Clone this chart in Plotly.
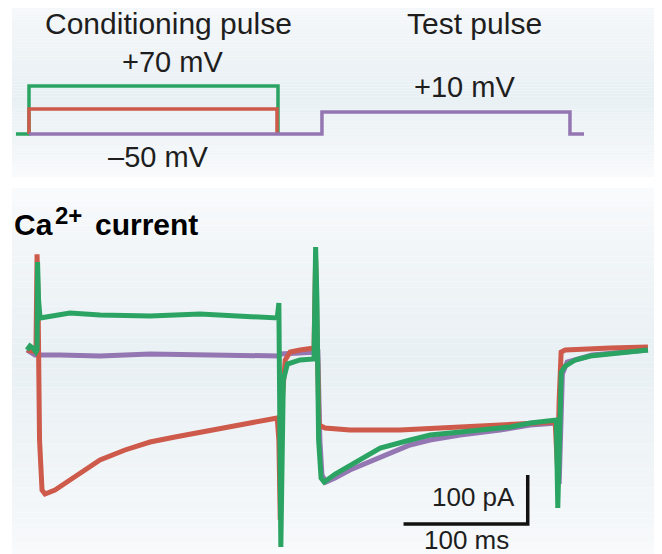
import plotly.graph_objects as go

# ---------------- data ----------------
# Voltage protocol (time in ms, voltage in mV)
v_green_t = [-8.9, 1.6, 1.6, 202.1, 202.1]
v_green_mv = [-50, -50, 70, 70, -50]
v_red_t = [1.6, 1.6, 201.3, 201.3]
v_red_mv = [-50, 12.5, 12.5, -50]
v_purple_t = [1.6, 237.5, 237.5, 437.2, 437.2, 448.5]
v_purple_mv = [-50, -50, 5, 5, -50, -50]

# Ca2+ currents (time in ms, current in pA)
purple_t = [0.0, 6.4, 26.6, 58.8, 99.1, 139.4, 179.7, 202.8, 204.4, 219.7, 232.6, 234.2,
            235.8, 237.5, 240.7, 248.0, 260.0, 284.2, 308.4, 324.5, 348.7, 380.9, 405.1,
            426.9, 428.5, 431.1, 434.9, 455.1, 500.0]
purple_pa = [8.2, -2.0, -2.0, -4.1, 0.0, -2.0, -2.0, -4.1, 0.0, 2.0, 4.1, 4.1,
             -175.5, -246.9, -261.2, -253.0, -236.7, -210.2, -185.7, -175.5, -165.3,
             -155.1, -144.9, -140.8, -265.3, -40.8, -16.3, -2.0, 8.2]

red_t = [0.0, 7.2, 8.1, 8.9, 10.1, 12.1, 14.5, 22.5, 34.6, 46.7, 58.8, 78.9, 99.1,
         119.2, 139.4, 159.5, 179.7, 201.5, 202.8, 203.9, 205.5, 207.9, 211.9, 219.9,
         231.1, 232.4, 233.5, 235.1, 240.0, 260.1, 300.4, 340.7, 381.0, 425.3, 427.2,
         428.5, 430.1, 433.4, 445.5, 469.7, 500.0]
red_pa = [8.2, 4.1, 203.7, 110.2, -175.5, -277.6, -285.7, -277.6, -257.1, -236.7,
          -216.3, -195.9, -179.6, -169.4, -159.2, -151.0, -140.8, -130.6, -175.5, -338.8,
          -93.9, -12.2, 4.1, 8.2, 12.2, 191.8, 53.1, -145.0, -151.0, -155.1, -155.1,
          -149.0, -144.9, -138.8, -236.7, -93.9, 4.1, 8.2, 10.2, 12.2, 14.3]

green_t = [0.0, 2.4, 4.8, 7.2, 8.1, 8.5, 9.3, 10.5, 18.5, 34.6, 58.8, 99.1, 139.4,
           179.7, 201.5, 202.8, 203.6, 204.4, 205.2, 206.4, 209.7, 219.9, 231.1, 232.4,
           233.5, 234.8, 236.8, 239.3, 248.2, 260.3, 284.4, 308.6, 324.7, 348.9, 365.0,
           389.2, 405.3, 426.2, 427.4, 428.6, 430.2, 433.4, 441.5, 453.6, 469.7, 485.8,
           500.0]
green_pa = [8.2, 16.3, 12.2, 4.1, 8.2, 187.8, 110.2, 73.5, 77.6, 83.7, 79.6, 77.6,
            81.6, 75.5, 73.5, 104.1, -93.9, -393.9, -255.1, -53.1, -20.4, -12.2, -10.2,
            218.4, 108.2, -175.5, -253.0, -261.2, -244.9, -226.5, -191.8, -175.5,
            -165.3, -159.2, -155.1, -149.0, -140.8, -134.7, -314.3, -134.7, -36.7,
            -24.5, -12.2, -4.1, 0.0, 4.1, 8.2]

# Scale bar (100 ms x 100 pA)
bar_t = [303.2, 403.2, 403.2]
bar_pa = [-346.9, -346.9, -246.9]

GREEN = "#2ba463"
RED = "#cd5a4a"
PURPLE = "#9476b2"

W, H = 662, 554
OFF = 8  # page body margin offset of the plot in the window

fig = go.Figure()

# voltage protocol on x2/y2
fig.add_trace(go.Scatter(x=v_green_t, y=v_green_mv, mode="lines", xaxis="x2", yaxis="y2",
                         line=dict(color=GREEN, width=3.5), hoverinfo="skip"))
fig.add_trace(go.Scatter(x=v_red_t, y=v_red_mv, mode="lines", xaxis="x2", yaxis="y2",
                         line=dict(color=RED, width=3.5), hoverinfo="skip"))
fig.add_trace(go.Scatter(x=v_purple_t, y=v_purple_mv, mode="lines", xaxis="x2", yaxis="y2",
                         line=dict(color=PURPLE, width=3.5), hoverinfo="skip"))

# currents
fig.add_trace(go.Scatter(x=purple_t, y=purple_pa, mode="lines",
                         line=dict(color=PURPLE, width=5), hoverinfo="skip"))
fig.add_trace(go.Scatter(x=red_t, y=red_pa, mode="lines",
                         line=dict(color=RED, width=5), hoverinfo="skip"))
fig.add_trace(go.Scatter(x=green_t, y=green_pa, mode="lines",
                         line=dict(color=GREEN, width=5), hoverinfo="skip"))
fig.add_trace(go.Scatter(x=bar_t, y=bar_pa, mode="lines",
                         line=dict(color="#111111", width=3.5), hoverinfo="skip"))

def px(x):
    return (x - OFF) / W

def py(y):
    return 1 - (y - OFF) / H

# background gradients (style only)
def blend(c1, c2, f):
    return "rgb(%d,%d,%d)" % tuple(round(a + (b - a) * f) for a, b in zip(c1, c2))

WHITE = (250, 251, 252)
BLUE = (233, 240, 244)
shapes = []
def panel(y0, y1, peak, n=60):
    h = (y1 - y0) / n
    for i in range(n):
        yc = y0 + (i + 0.5) * h
        if yc < peak:
            f = (yc - y0) / (peak - y0)
        else:
            f = (y1 - yc) / (y1 - peak)
        f = max(0.0, min(1.0, f)) ** 0.7
        shapes.append(dict(type="rect", xref="paper", yref="paper", layer="below",
                           x0=px(12), x1=px(W + OFF), y0=py(y0 + (i + 1) * h),
                           y1=py(y0 + i * h), line=dict(width=0),
                           fillcolor=blend(WHITE, BLUE, f)))
panel(-OFF, 177, 95)
panel(188, H + OFF, 360)

FONT = "Liberation Sans, Arial, sans-serif"
def txt(x, y, s, size=30, color="#1e1e1e", xanchor="center", bold=False):
    return dict(x=px(x), y=py(y), xref="paper", yref="paper",
                text=("<b>%s</b>" % s) if bold else s,
                showarrow=False, xanchor=xanchor, yanchor="middle",
                font=dict(family=FONT, size=size, color=color))

annotations = [
    txt(168, 24, "Conditioning pulse"),
    txt(172, 62, "+70 mV", size=29),
    txt(158, 157, "–50 mV", size=29),
    txt(475, 24, "Test pulse"),
    txt(464, 87, "+10 mV", size=29),
    txt(12, 224, "Ca", size=30, color="#000000", xanchor="left", bold=True),
    txt(53, 215, "2+", size=24, color="#000000", xanchor="left", bold=True),
    txt(93, 224, "current", size=30, color="#000000", xanchor="left", bold=True),
    txt(517, 497, "100 pA", size=26, xanchor="right"),
    txt(466, 540, "100 ms", size=26),
]

# axes mapped so that the figure matches the reference layout
t_per_px = 1 / 1.2419
xr = [(OFF - 27) * t_per_px, (W + OFF - 27) * t_per_px]
pa_per_px = 100 / 49
yr = [(354 - (H + OFF)) * pa_per_px, (354 - OFF) * pa_per_px]
mv_per_px = 1 / 0.4
vr = [-50 - ((H + OFF) - 134) * mv_per_px, -50 + (134 - OFF) * mv_per_px]

ax = dict(visible=False, showgrid=False, zeroline=False, fixedrange=True)
fig.update_layout(
    width=W, height=H,
    margin=dict(l=0, r=0, t=0, b=0),
    paper_bgcolor="white", plot_bgcolor="rgba(0,0,0,0)",
    showlegend=False,
    xaxis=dict(range=xr, domain=[0, 1], **ax),
    yaxis=dict(range=yr, domain=[0, 1], **ax),
    xaxis2=dict(range=xr, domain=[0, 1], anchor="y2", overlaying="x", **ax),
    yaxis2=dict(range=vr, domain=[0, 1], anchor="x2", overlaying="y", **ax),
    shapes=shapes,
    annotations=annotations,
)

fig.write_html("out.html")
